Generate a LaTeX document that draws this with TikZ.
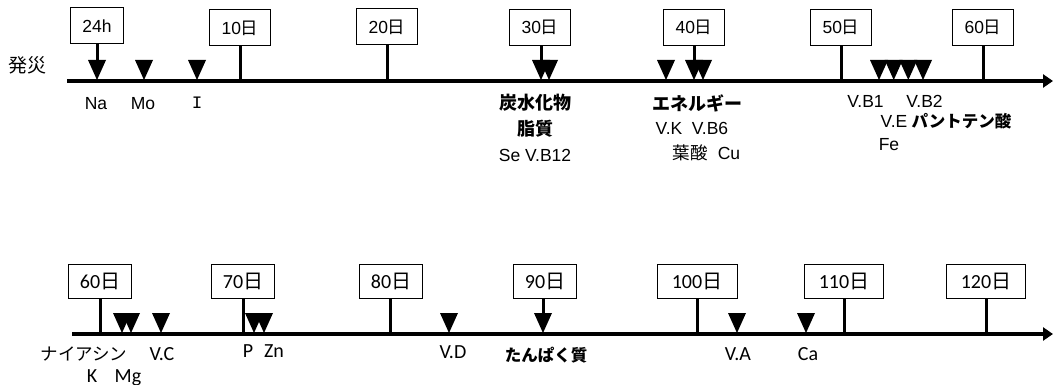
\documentclass[tikz,border=0pt]{standalone}
\usepackage{fontspec}
\setmainfont{Liberation Sans}
\newfontfamily\jpfont{Noto Sans CJK JP}
\newfontfamily\calfont{Carlito}
\newfontfamily\monofnt{Liberation Mono}
\usetikzlibrary{arrows.meta}
\tikzset{
 tl/.style={line width=4pt, -{Triangle[length=10pt,width=13pt]}},
 stem/.style={line width=3pt},
 tbox/.style={draw, line width=1pt, minimum height=36pt, inner xsep=12pt, inner ysep=0pt, font=\fontsize{17.5}{20}\selectfont},
 bbox/.style={draw, line width=1pt, minimum height=34pt, inner xsep=11pt, inner ysep=0pt, font=\calfont\fontsize{20}{24}\selectfont},
 ttxt/.style={inner sep=0pt, anchor=base, font=\fontsize{17.5}{20}\selectfont},
 tjp/.style={inner sep=0pt, font=\jpfont\bfseries\fontsize{18}{20}\selectfont},
 jpr/.style={inner sep=0pt, font=\jpfont\fontsize{17.5}{20}\selectfont},
 btxt/.style={inner sep=0pt, anchor=base, font=\calfont\fontsize{20}{24}\selectfont},
 tridown/.pic={\fill (-9,-20) -- (9,-20) -- (0,0) -- cycle;}
}
\begin{document}
\begin{tikzpicture}[x=1pt,y=-1pt]
\useasboundingbox (0,0) rectangle (1054,385);
% ---------- top timeline ----------
\node[jpr, font=\jpfont\fontsize{19}{22}\selectfont] (hs) at (28,65) {発災};
\coordinate (T0) at (67,81);
\coordinate (T1) at (1053,81);
\draw[tl] (T0) -- (T1);

\node[tbox] (b24) at (97,26) {24h};
\node[tbox, minimum width=61pt] (b10) at (240,28) {10{\jpfont 日}};
\node[tbox, minimum width=61pt] (b20) at (387,27) {20{\jpfont 日}};
\node[tbox, minimum width=61pt] (b30) at (540,27.5) {30{\jpfont 日}};
\node[tbox, minimum width=61pt] (b40) at (694,27.5) {40{\jpfont 日}};
\node[tbox, minimum width=61pt] (b50) at (841,27.5) {50{\jpfont 日}};
\node[tbox, minimum width=61pt] (b60) at (983,27.5) {60{\jpfont 日}};

\coordinate (a24) at (97,61);
\coordinate (a30) at (541,61);
\coordinate (a40) at (694,61);
\draw[stem] (b24.south) -- (a24);
\draw[stem] (b10.south) -- (b10.south |- T0);
\draw[stem] (b20.south) -- (b20.south |- T0);
\draw[stem] ([xshift=1pt]b30.south) -- (a30);
\draw[stem] (b40.south) -- (a40);
\draw[stem] (b50.south) -- (b50.south |- T0);
\draw[stem] (b60.south) -- (b60.south |- T0);

\foreach \x in {97,144,197,541,549,666,694,703,879,893.7,908.3,923}
  \pic at (\x,80) {tridown};

\node[ttxt] (na) at (96,110) {Na};
\node[ttxt] (mo) at (143,110) {Mo};
\node[ttxt, font=\monofnt\fontsize{17.5}{20}\selectfont] (io) at (197,109) {I};

\node[tjp] (tansui) at (535,103) {炭水化物};
\node[tjp] (shishitsu) at (535,129) {脂質};
\node[ttxt] (sevb) at (535,161) {Se V.B12};

\node[tjp] (energy) at (697,103) {エネルギー};
\node[ttxt] (vk) at (669,135) {V.K};
\node[ttxt] (vb6) at (710,135) {V.B6};
\node[jpr] (yosan) at (690,153) {葉酸};
\node[ttxt] (cu) at (729,159.5) {Cu};

\node[ttxt] (vb1) at (865.5,108) {V.B1};
\node[ttxt] (vb2) at (924.5,108) {V.B2};
\node[ttxt] (ve) at (894,128) {V.E};
\node[tjp, font=\jpfont\bfseries\fontsize{16.5}{20}\selectfont] (panto) at (961.5,121.5) {パントテン酸};
\node[ttxt] (fe) at (889,150) {Fe};

% ---------- bottom timeline ----------
\coordinate (B0) at (72,334);
\coordinate (B1) at (1053,334);
\draw[tl] (B0) -- (B1);

\node[bbox, minimum width=60pt] (c60) at (100,281) {60{\jpfont 日}};
\node[bbox, minimum width=60pt] (c70) at (243,281) {70{\jpfont 日}};
\node[bbox, minimum width=61pt] (c80) at (391,281) {80{\jpfont 日}};
\node[bbox, minimum width=62pt] (c90) at (545,281) {90{\jpfont 日}};
\node[bbox, minimum width=80pt] (c100) at (697,281) {100{\jpfont 日}};
\node[bbox, minimum width=79pt] (c110) at (844,281) {110{\jpfont 日}};
\node[bbox, minimum width=79pt] (c120) at (986,281) {120{\jpfont 日}};

\coordinate (a90) at (543,314);
\draw[stem] (c60.south) -- (c60.south |- B0);
\draw[stem] (c70.south) -- (c70.south |- B0);
\draw[stem] ([xshift=-1pt]c80.south) -- ([xshift=-1pt]c80.south |- B0);
\draw[stem] ([xshift=-2pt]c90.south) -- (a90);
\draw[stem] (c100.south) -- (c100.south |- B0);
\draw[stem] (c110.south) -- (c110.south |- B0);
\draw[stem] (c120.south) -- (c120.south |- B0);

\foreach \x in {122,131,161,254,264,449,543,737,806}
  \pic at (\x,333) {tridown};

\node[jpr] (niacin) at (84,354) {ナイアシン};
\node[btxt] (vc) at (162,360) {V.C};
\node[btxt] (kk) at (92,382) {K};
\node[btxt] (mg) at (128,382) {Mg};
\node[btxt] (pp) at (248,357) {P};
\node[btxt] (zn) at (274,357) {Zn};
\node[btxt] (vd) at (453,358) {V.D};
\node[tjp, font=\jpfont\bfseries\fontsize{16.5}{20}\selectfont] (tanpaku) at (546,355) {たんぱく質};
\node[btxt] (va) at (738,360) {V.A};
\node[btxt] (ca) at (808,360) {Ca};
\end{tikzpicture}
\end{document}
